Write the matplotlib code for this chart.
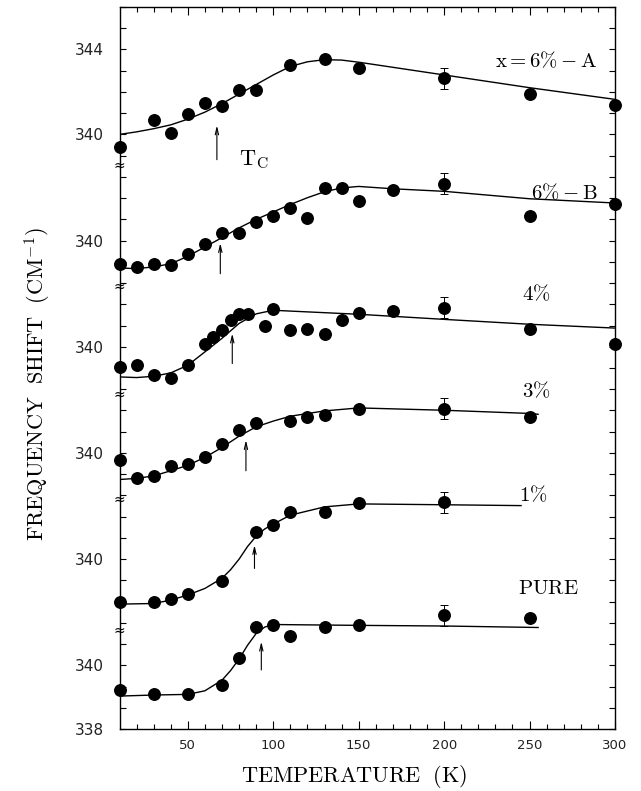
import numpy as np
import matplotlib
matplotlib.use('Agg')
import matplotlib.pyplot as plt
from matplotlib.ticker import FixedLocator

plt.rcParams['mathtext.fontset'] = 'cm'

# Raman frequency shift (cm^-1) vs temperature, one series per doping level
T_6A = [10, 30, 40, 50, 60, 70, 80, 90, 110, 130, 150, 200, 250, 300]
W_6A = [339.4, 340.7, 340.06, 340.96, 341.46, 341.33, 342.07, 342.07, 343.25, 343.54, 343.15, 342.65, 341.91, 341.4]
FIT_T_6A = [10, 20, 30, 40, 50, 60, 70, 80, 90, 100, 110, 120, 130, 140, 150, 200, 250, 300]
FIT_W_6A = [340.0, 340.12, 340.27, 340.45, 340.72, 341.05, 341.45, 341.9, 342.35, 342.8, 343.2, 343.42, 343.52, 343.5, 343.4, 342.8, 342.2, 341.65]

T_6B = [10, 20, 30, 40, 50, 60, 70, 80, 90, 100, 110, 120, 130, 140, 150, 170, 200, 250, 300]
W_6B = [338.91, 338.76, 338.91, 338.84, 339.39, 339.86, 340.37, 340.37, 340.87, 341.16, 341.55, 341.06, 342.47, 342.47, 341.88, 342.36, 342.68, 341.16, 341.74]
FIT_T_6B = [10, 20, 30, 40, 50, 60, 70, 80, 90, 100, 110, 120, 130, 140, 150, 170, 200, 250, 300]
FIT_W_6B = [338.71, 338.68, 338.76, 338.91, 339.26, 339.7, 340.14, 340.6, 341.0, 341.35, 341.7, 342.02, 342.3, 342.48, 342.55, 342.44, 342.32, 341.97, 341.77]

T_4 = [10, 20, 30, 40, 50, 60, 65, 70, 75, 80, 85, 95, 100, 110, 120, 130, 140, 150, 170, 200, 250, 300]
W_4 = [339.05, 339.16, 338.66, 338.55, 339.16, 340.15, 340.46, 340.78, 341.28, 341.56, 341.56, 340.96, 341.78, 340.78, 340.86, 340.59, 341.28, 341.59, 341.67, 341.84, 340.84, 340.15]
FIT_T_4 = [10, 20, 30, 40, 50, 60, 70, 80, 90, 100, 110, 150, 200, 250, 300]
FIT_W_4 = [338.58, 338.55, 338.61, 338.77, 339.13, 339.76, 340.4, 341.1, 341.55, 341.72, 341.68, 341.53, 341.29, 341.06, 340.88]

T_3 = [10, 20, 30, 40, 50, 60, 70, 80, 90, 110, 120, 130, 150, 200, 250]
W_3 = [339.69, 338.8, 338.91, 339.38, 339.5, 339.79, 340.4, 341.07, 341.42, 341.51, 341.7, 341.81, 342.09, 342.09, 341.7]
FIT_T_3 = [10, 20, 30, 40, 50, 60, 70, 80, 90, 100, 110, 130, 150, 200, 250, 255]
FIT_W_3 = [338.75, 338.8, 338.92, 339.16, 339.42, 339.79, 340.26, 340.79, 341.23, 341.5, 341.73, 341.98, 342.12, 342.01, 341.86, 341.82]

T_1 = [10, 30, 40, 50, 70, 90, 100, 110, 130, 150, 200]
W_1 = [337.96, 337.96, 338.1, 338.38, 338.98, 341.3, 341.63, 342.2, 342.23, 342.62, 342.67]
FIT_T_1 = [10, 30, 40, 50, 60, 70, 75, 80, 85, 90, 95, 100, 110, 130, 150, 200, 245]
FIT_W_1 = [337.88, 337.91, 338.07, 338.31, 338.62, 339.1, 339.5, 340.0, 340.6, 341.08, 341.42, 341.65, 342.07, 342.46, 342.6, 342.56, 342.52]

T_P = [10, 30, 50, 70, 80, 90, 100, 110, 130, 150, 200, 250]
W_P = [338.84, 338.65, 338.65, 339.07, 340.36, 341.78, 341.89, 341.38, 341.78, 341.88, 342.36, 342.25]
FIT_T_P = [10, 30, 50, 60, 70, 75, 80, 85, 90, 95, 100, 150, 200, 255]
FIT_W_P = [338.55, 338.6, 338.63, 338.8, 339.3, 339.75, 340.3, 340.95, 341.5, 341.8, 341.92, 341.88, 341.85, 341.78]

# transition temperatures marked with arrows
TC = [67, 69, 76, 84, 89, 93]
ERR_200 = 0.5

# (points T, points w, fit T, fit w, vertical offset, Tc, arrow tip, arrow tail)
curves = [
    (T_6A, W_6A, FIT_T_6A, FIT_W_6A, 25, TC[0], 340.42, 338.81),
    (T_6B, W_6B, FIT_T_6B, FIT_W_6B, 20, TC[1], 339.88, 338.44),
    (T_4, W_4, FIT_T_4, FIT_W_4, 15, TC[2], 340.62, 339.21),
    (T_3, W_3, FIT_T_3, FIT_W_3, 10, TC[3], 340.6, 339.16),
    (T_1, W_1, FIT_T_1, FIT_W_1, 5, TC[4], 340.66, 339.56),
    (T_P, W_P, FIT_T_P, FIT_W_P, 0, TC[5], 341.11, 339.78),
]

fig = plt.figure(figsize=(6.41, 7.91), dpi=100)
ax = fig.add_axes([119.5 / 641, 1 - 729 / 791, 495.5 / 641, 722 / 791])

for t, w, ft, fw, off, tc, tip, tail in curves:
    t = np.array(t)
    w = np.array(w) + off
    ax.plot(ft, np.array(fw) + off, color='black', lw=1.0, zorder=2)
    ax.plot(t, w, 'o', color='black', ms=8.3, zorder=3, clip_on=False)
    i = list(t).index(200)
    ax.errorbar([200], [w[i]], yerr=ERR_200, fmt='none', ecolor='black',
                elinewidth=0.7, capsize=3, capthick=0.7, zorder=3)
    ax.annotate('', xy=(tc, tip + off), xytext=(tc, tail + off),
                arrowprops=dict(arrowstyle='->,head_length=0.5,head_width=0.12',
                                color='black', lw=0.8, shrinkA=0, shrinkB=0))

lab_kw = dict(fontsize=15, color='black', va='center')
ax.text(290, 368.48, r'$\mathrm{x=6\%-A}$', ha='right', **lab_kw)
ax.text(290, 362.25, r'$\mathrm{6\%-B}$', ha='right', **lab_kw)
ax.text(245.5, 357.47, r'$\mathrm{4\%}$', ha='left', **lab_kw)
ax.text(245.5, 352.9, r'$\mathrm{3\%}$', ha='left', **lab_kw)
ax.text(244, 348.0, r'$\mathrm{1\%}$', ha='left', **lab_kw)
ax.text(243, 343.66, r'$\mathrm{PURE}$', ha='left', **lab_kw)
ax.text(80, 363.54, r'$\mathrm{T_C}$', ha='left', va='baseline', fontsize=16)

# axis breaks between stacked curves
for yb in [341.63, 347.78, 352.72, 357.81, 363.54]:
    ax.text(10, yb, '≈', ha='center', va='center', fontsize=10, color='black')

ax.set_xlim(10, 300)
ax.set_ylim(337, 371)
ax.set_xticks([50, 100, 150, 200, 250, 300])
ax.xaxis.set_minor_locator(FixedLocator(np.arange(20, 300, 10)))

ylabels = {337: '338', 340: '340', 345: '340', 350: '340', 355: '340',
           360: '340', 365: '340', 369: '344'}
yt = list(range(337, 372))
ax.set_yticks(yt)
ax.set_yticklabels([ylabels.get(v, '') for v in yt])

ax.tick_params(axis='both', which='both', direction='in', top=True, right=True,
               width=0.8, color='black')
ax.tick_params(axis='x', which='major', length=6, pad=7, labelsize=9.5)
ax.tick_params(axis='x', which='minor', length=3.5)
ax.tick_params(axis='y', which='major', length=4, pad=11, labelsize=11)
for lbl in ax.get_xticklabels() + ax.get_yticklabels():
    lbl.set_color('#222222')
for s in ax.spines.values():
    s.set_linewidth(1.0)

fig.text(354 / 641, 1 - 776 / 791, r'$\mathrm{TEMPERATURE\ \ (K)}$',
         ha='center', va='center', fontsize=16)
fig.text(37.5 / 641, 1 - 384.5 / 791, r'$\mathrm{FREQUENCY\ \ SHIFT\ \ (CM^{-1})}$',
         ha='center', va='center', rotation=90, fontsize=16)

fig.savefig('out.png', dpi=100)
